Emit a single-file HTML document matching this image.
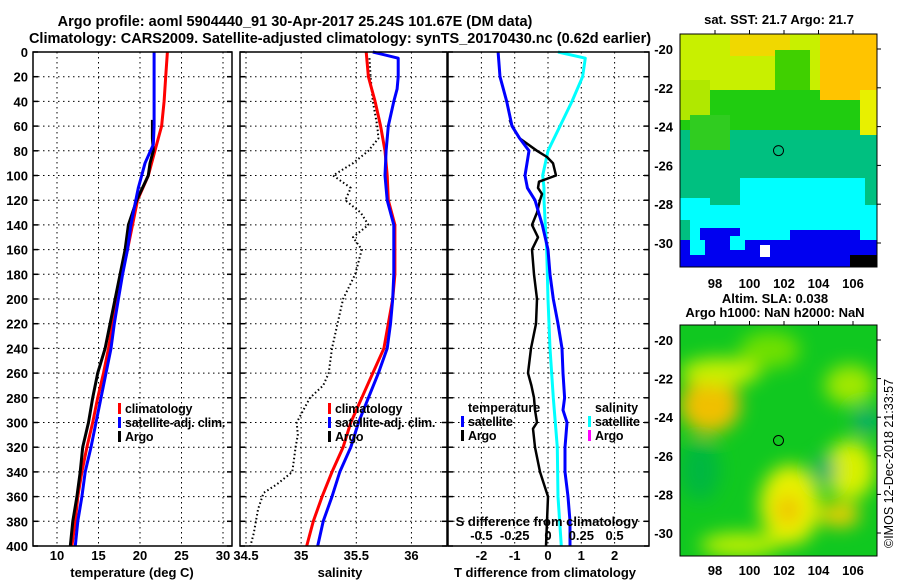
<!DOCTYPE html>
<html><head><meta charset="utf-8">
<style>
html,body{margin:0;padding:0;background:#fff;}
svg{display:block;font-family:"Liberation Sans",Arial,sans-serif;font-weight:bold;}
text{font-size:13px;fill:#000;}
</style></head>
<body>
<svg id="fig" width="900" height="580" viewBox="0 0 900 580" xmlns="http://www.w3.org/2000/svg">
<defs>
<filter id="bl" x="-20%" y="-20%" width="140%" height="140%"><feGaussianBlur stdDeviation="9"/></filter>
<clipPath id="m1c"><rect x="680" y="34" width="197" height="233"/></clipPath>
<clipPath id="m2c"><rect x="680" y="325" width="197" height="231"/></clipPath>
</defs>
<text x="295" y="26" text-anchor="middle" style="font-size:14.5px">Argo profile: aoml 5904440_91 30-Apr-2017 25.24S 101.67E (DM data)</text>
<text x="340" y="43" text-anchor="middle" style="font-size:14.5px">Climatology: CARS2009. Satellite-adjusted climatology: synTS_20170430.nc (0.62d earlier)</text>

<g id="p1"></g>
<g id="p2"></g>
<g id="p3"></g>

<!-- Map 1: SST -->
<g clip-path="url(#m1c)">
<rect x="680" y="34" width="197" height="233" fill="#00c080"/>
<rect x="680" y="34" width="197" height="62" fill="#c8f000"/>
<rect x="680" y="90" width="197" height="40" fill="#20cc10"/>
<rect x="680" y="80" width="30" height="40" fill="#b0e800"/>
<rect x="820" y="34" width="57" height="66" fill="#ffc400"/>
<rect x="860" y="90" width="17" height="45" fill="#e8f000"/>
<rect x="730" y="34" width="60" height="22" fill="#f0d800"/>
<rect x="775" y="50" width="35" height="40" fill="#40d000"/>
<rect x="690" y="115" width="40" height="35" fill="#30cc20"/>
<rect x="690" y="205" width="187" height="40" fill="#00ffff"/>
<rect x="740" y="178" width="125" height="35" fill="#00ffff"/>
<rect x="680" y="198" width="30" height="22" fill="#00ffff"/>
<rect x="680" y="240" width="197" height="27" fill="#0000f0"/>
<rect x="700" y="228" width="40" height="14" fill="#0000f0"/>
<rect x="790" y="230" width="70" height="12" fill="#0000f0"/>
<rect x="760" y="245" width="10" height="12" fill="#fff"/>
<rect x="850" y="255" width="27" height="12" fill="#000"/>
<rect x="690" y="240" width="15" height="15" fill="#00ffff"/>
<rect x="730" y="236" width="15" height="14" fill="#00ffff"/>
</g>
<rect x="680" y="34" width="197" height="233" fill="none" stroke="#000" stroke-width="1"/>
<circle cx="778.5" cy="150.6" r="5" fill="none" stroke="#000" stroke-width="1"/>
<text x="779" y="24" text-anchor="middle">sat. SST: 21.7 Argo: 21.7</text>

<!-- Map 2: SLA -->
<g clip-path="url(#m2c)">
<rect x="680" y="325" width="197" height="231" fill="#10c820"/>
<g filter="url(#bl)">
<ellipse cx="710" cy="405" rx="30" ry="28" fill="#f0c000"/>
<ellipse cx="720" cy="372" rx="40" ry="14" fill="#c8f000"/>
<ellipse cx="770" cy="350" rx="30" ry="18" fill="#70e000"/>
<ellipse cx="790" cy="505" rx="30" ry="40" fill="#e8f000"/>
<ellipse cx="788" cy="510" rx="12" ry="14" fill="#f0c000"/>
<ellipse cx="850" cy="470" rx="25" ry="30" fill="#d8f000"/>
<ellipse cx="840" cy="515" rx="20" ry="12" fill="#f0d000"/>
<ellipse cx="850" cy="385" rx="25" ry="20" fill="#a0e800"/>
<ellipse cx="825" cy="470" rx="10" ry="14" fill="#00a878"/>
<ellipse cx="866" cy="421" rx="12" ry="12" fill="#00a878"/>
<ellipse cx="740" cy="545" rx="40" ry="12" fill="#c0f000"/>
<ellipse cx="700" cy="470" rx="20" ry="30" fill="#00b840"/>
</g>
</g>
<rect x="680" y="325" width="197" height="231" fill="none" stroke="#000" stroke-width="1"/>
<circle cx="778.5" cy="440.5" r="5" fill="none" stroke="#000" stroke-width="1"/>
<text x="775" y="303" text-anchor="middle">Altim. SLA: 0.038</text>
<text x="775" y="317" text-anchor="middle">Argo h1000: NaN h2000: NaN</text>
<g id="maxes"></g>

<text transform="translate(893,548) rotate(-90)" style="font-size:12.5px;font-weight:normal">©IMOS 12-Dec-2018 21:33:57</text>
</svg>

<script>
// ---- data: depth (m) ----
const tClimDepth = [0,20,40,60,80,100,120,140,160,180,200,220,240,260,280,300,320,340,360,380,400];
const tClim      = [23.3,23.1,22.9,22.6,21.8,21.0,19.7,19.1,18.5,17.8,17.2,16.7,16.2,15.6,14.9,14.3,13.6,13.0,12.5,12.2,11.8];
const tSatDepth  = [0,20,40,60,75,90,100,110,120,140,160,180,200,220,240,260,280,300,320,340,360,380,400];
const tSat       = [21.7,21.7,21.7,21.7,21.6,20.6,20.2,19.8,19.5,18.9,18.5,17.9,17.4,16.9,16.5,15.9,15.3,14.7,14.1,13.4,13.0,12.5,12.2];
const tArgoDepth = [55,70,80,90,100,110,120,140,160,180,200,220,240,260,280,300,320,340,360,380,400];
const tArgo      = [21.5,21.5,21.6,21.2,21.0,20.3,19.6,18.6,18.2,17.6,17.0,16.4,15.8,14.9,14.3,13.8,13.1,12.8,12.4,11.9,11.6];

const sClimDepth = [0,10,20,30,40,60,80,100,120,140,160,180,200,220,240,260,280,300,320,340,360,380,400];
const sClim      = [35.59,35.60,35.61,35.64,35.67,35.72,35.76,35.78,35.79,35.85,35.85,35.85,35.83,35.79,35.75,35.65,35.55,35.45,35.38,35.28,35.19,35.11,35.05];
const sSatDepth  = [0,5,20,30,40,60,80,100,120,140,160,180,200,220,240,260,280,300,320,340,360,380,400];
const sSat       = [35.65,35.88,35.88,35.87,35.84,35.79,35.77,35.76,35.78,35.84,35.84,35.84,35.83,35.81,35.78,35.70,35.61,35.52,35.45,35.35,35.28,35.20,35.15];
const sArgoDepth = [5,20,40,60,70,80,90,100,110,120,130,140,150,160,180,200,220,240,260,270,280,300,310,320,340,350,357,370,390,400];
const sArgo      = [35.62,35.63,35.65,35.69,35.70,35.61,35.47,35.29,35.45,35.40,35.54,35.61,35.47,35.55,35.49,35.38,35.33,35.28,35.25,35.20,35.08,34.96,34.97,34.95,34.92,34.78,34.66,34.61,34.57,34.54];

const dTSatDepth = [0,20,40,60,70,80,90,100,110,120,140,160,180,200,220,240,260,280,290,300,320,340,360,380,400];
const dTSat      = [-1.5,-1.44,-1.24,-1.08,-0.85,-0.57,-0.63,-0.69,-0.62,-0.39,-0.17,0.0,0.06,0.16,0.30,0.42,0.45,0.50,0.45,0.57,0.51,0.51,0.60,0.66,0.66];
const dTArgoDepth= [55,60,70,80,85,90,100,105,110,115,120,130,140,150,160,180,200,220,240,260,270,280,290,300,305,320,340,360,380,400];
const dTArgo     = [-1.15,-1.08,-0.85,-0.33,-0.03,0.15,0.24,-0.27,-0.30,-0.18,-0.24,-0.33,-0.48,-0.30,-0.48,-0.42,-0.33,-0.36,-0.51,-0.60,-0.50,-0.42,-0.39,-0.33,-0.45,-0.39,-0.24,0.0,-0.03,-0.06];
const dSSatDepth = [0,5,20,40,60,80,100,110,120,140,160,200,240,280,320,360,400];
const dSSat      = [0.075,0.28,0.26,0.18,0.09,0.0,-0.04,-0.03,-0.03,-0.02,-0.01,0.0,0.015,0.04,0.07,0.075,0.10];

const depthTicks = [0,20,40,60,80,100,120,140,160,180,200,220,240,260,280,300,320,340,360,380,400];
const tTicks = [10,15,20,25,30];
const sTicks = [34.5,35,35.5,36];
const dTTicks = [-2,-1,0,1,2];
const dSTicks = [-0.5,-0.25,0,0.25,0.5];
const dSTickLabels = ["-0.5","-0.25","0","0.25","0.5"];
const latTicks = [-20,-22,-24,-26,-28,-30];
const lonTicks = [98,100,102,104,106];

const NS = "http://www.w3.org/2000/svg";
function el(tag, attrs, parent){ const e=document.createElementNS(NS,tag); for(const k in attrs) e.setAttribute(k,attrs[k]); parent.appendChild(e); return e; }

const Y0=52, Y1=546;
const yScale = d => Y0 + (d/400)*(Y1-Y0);
const x1 = v => 57 + (v-10)*(223-57)/20;
const x2 = v => 246 + (v-34.5)*110.3;
const x3 = v => 548 + v*33.3;
const x3s = v => 548 + v*133.2;

function panel(g, L, R, xt, xf, name){
  depthTicks.forEach(d=>{ if(d===0||d===400) return;
    const ln=el('line',{x1:L,x2:R,y1:yScale(d),y2:yScale(d),stroke:'#000','stroke-width':1,'stroke-dasharray':'1.5 3.5'},g);
     
  });
  xt.forEach(v=>{ const x=xf(v); if(x<=L+1||x>=R-1) return;
    const ln=el('line',{x1:x,x2:x,y1:Y0,y2:Y1,stroke:'#000','stroke-width':1,'stroke-dasharray':'1.5 3.5'},g);
     
  });
  depthTicks.forEach(d=>{
    const a=el('line',{x1:L,x2:L+5,y1:yScale(d),y2:yScale(d),stroke:'#000','stroke-width':1.5},g);
     
    const b=el('line',{x1:R-5,x2:R,y1:yScale(d),y2:yScale(d),stroke:'#000','stroke-width':1.5},g);
     
  });
}
function frame(g,L,R){
  const f=el('rect',{x:L,y:Y0,width:R-L,height:Y1-Y0,fill:'none',stroke:'#000','stroke-width':1.5},g);
   
}
function line(g, depths, vals, xf, color, w, nm, dash){
  const pts = depths.map((d,i)=>xf(vals[i]).toFixed(1)+','+yScale(d).toFixed(1)).join(' ');
  const a={points:pts,fill:'none',stroke:color,'stroke-width':w,'stroke-linejoin':'round'};
  if(dash) a['stroke-dasharray']=dash;
  const p=el('polyline',a,g);
   
}
function txt(g,x,y,s,anchor,nm,extra){
  const t=el('text',Object.assign({x:x,y:y,'text-anchor':anchor||'start'},extra||{}),g); t.textContent=s;
    return t;
}
function legend(g,x,y,color,label,nm){
  const r=el('rect',{x:x,y:y-10,width:3,height:11,fill:color},g);
   
  txt(g,x+7,y,label,'start',nm,{style:'font-size:12.5px;letter-spacing:-0.2px'});
}

// Panel 1
const g1=document.getElementById('p1');
panel(g1,33,232,tTicks,x1,'temperature');
line(g1,tClimDepth,tClim,x1,'#ff0000',3,'temp-climatology-line');
line(g1,tArgoDepth,tArgo,x1,'#000',3,'temp-argo-line');
line(g1,tSatDepth,tSat,x1,'#0000ff',3,'temp-satellite-line');
frame(g1,33,232);
depthTicks.forEach(d=>txt(g1,28,yScale(d)+5,String(d),'end','depth-tick-label'));
tTicks.forEach(v=>txt(g1,x1(v),560,String(v),'middle','temperature-tick-label'));
txt(g1,132,577,'temperature (deg C)','middle','temperature-axis-title');
legend(g1,118,413,'#ff0000','climatology','legend-climatology');
legend(g1,118,427,'#0000ff','satellite-adj. clim.','legend-satellite-adj');
legend(g1,118,441,'#000','Argo','legend-argo');

// Panel 2
const g2=document.getElementById('p2');
panel(g2,240,447,sTicks,x2,'salinity');
line(g2,sArgoDepth,sArgo,x2,'#000',2,'salinity-argo-line','1.5 2.5');
line(g2,sClimDepth,sClim,x2,'#ff0000',3,'salinity-climatology-line');
line(g2,sSatDepth,sSat,x2,'#0000ff',3,'salinity-satellite-line');
frame(g2,240,447);
sTicks.forEach(v=>txt(g2,x2(v),560,String(v),'middle','salinity-tick-label'));
txt(g2,340,577,'salinity','middle','salinity-axis-title');
legend(g2,328,413,'#ff0000','climatology','legend-climatology');
legend(g2,328,427,'#0000ff','satellite-adj. clim.','legend-satellite-adj');
legend(g2,328,441,'#000','Argo','legend-argo');

// Panel 3
const g3=document.getElementById('p3');
panel(g3,448,649,dTTicks,x3,'t-difference');
line(g3,dSSatDepth,dSSat,x3s,'#00ffff',3,'s-diff-satellite-line');
line(g3,dTArgoDepth,dTArgo,x3,'#000',2.5,'t-diff-argo-line');
line(g3,dTSatDepth,dTSat,x3,'#0000ff',3,'t-diff-satellite-line');
frame(g3,448,649);
dTTicks.forEach(v=>txt(g3,x3(v),560,String(v),'middle','t-difference-tick-label'));
txt(g3,545,577,'T difference from climatology','middle','t-difference-axis-title');
dSTicks.forEach((v,i)=>txt(g3,x3s(v),540,dSTickLabels[i],'middle','s-difference-tick-label'));
txt(g3,547,526,'S difference from climatology','middle','s-difference-axis-title');
txt(g3,468,412,'temperature','start','legend-temperature-heading',{style:'font-size:12.5px'});
legend(g3,461,426,'#0000ff','satellite','legend-t-satellite');
legend(g3,461,440,'#000','Argo','legend-t-argo');
txt(g3,595,412,'salinity','start','legend-salinity-heading',{style:'font-size:12.5px'});
legend(g3,588,426,'#00ffff','satellite','legend-s-satellite');
legend(g3,588,440,'#ff00ff','Argo','legend-s-argo');

// Map axes
const gm=document.getElementById('maxes');
const lonX = v => 715 + (v-98)*17.25;
const lat1 = v => 49 + (-20-v)*19.4;
const lat2 = v => 340 + (-20-v)*19.3;
latTicks.forEach(v=>{
  txt(gm,673,lat1(v)+5,String(v),'end','sst-lat-tick-label');
  txt(gm,673,lat2(v)+5,String(v),'end','sla-lat-tick-label');
  [lat1(v),lat2(v)].forEach(y=>{
    const a=el('line',{x1:877,x2:881,y1:y,y2:y,stroke:'#000'},gm);
     
  });
});
lonTicks.forEach(v=>{
  txt(gm,lonX(v),288,String(v),'middle','sst-lon-tick-label');
  txt(gm,lonX(v),575,String(v),'middle','sla-lon-tick-label');
  const a=el('line',{x1:lonX(v),x2:lonX(v),y1:30,y2:34,stroke:'#000'},gm);
   
  const b=el('line',{x1:lonX(v),x2:lonX(v),y1:321,y2:325,stroke:'#000'},gm);
   
});
</script>
</body></html>
